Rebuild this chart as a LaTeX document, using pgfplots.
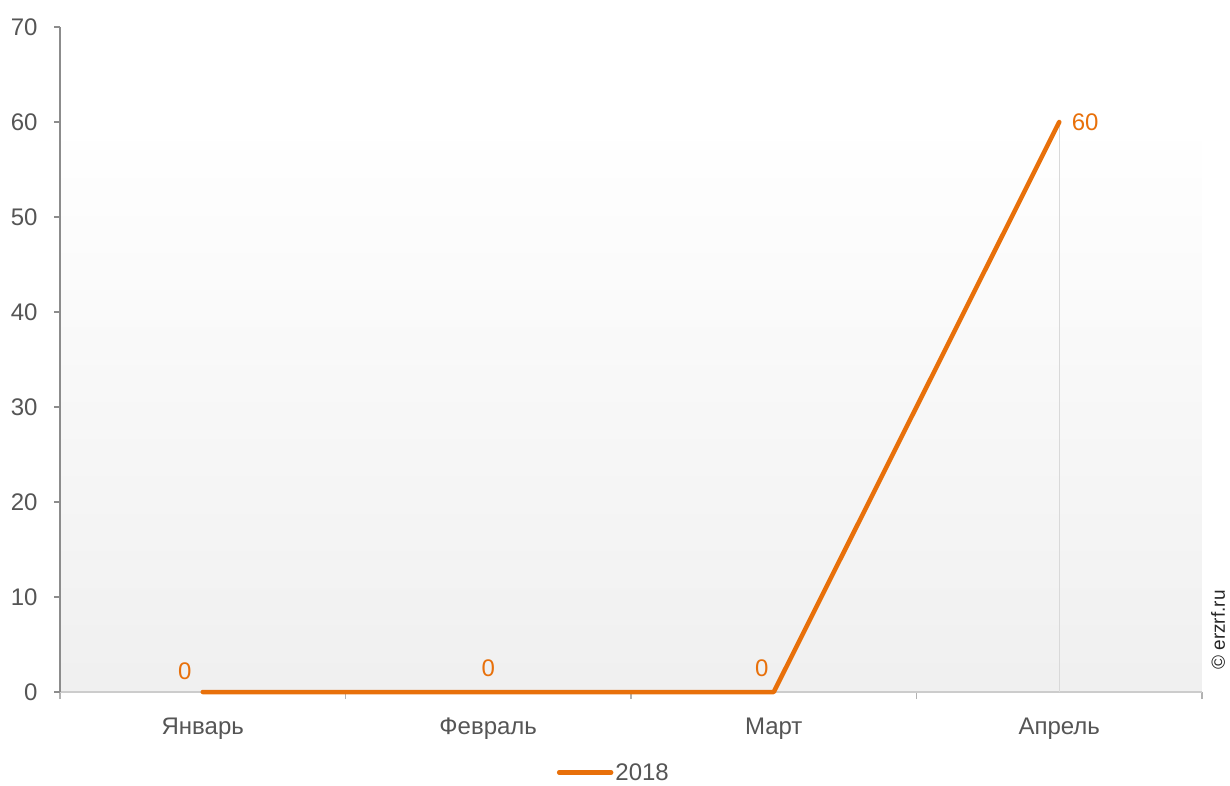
\documentclass[border=0pt]{standalone}
\usepackage{fontspec}
\setmainfont{Liberation Sans}
\usepackage{pgfplots}
\pgfplotsset{compat=1.18}
\definecolor{lineor}{HTML}{E8700A}
\definecolor{txt}{HTML}{555555}
\newcommand{\fs}{\fontsize{24}{28}\selectfont}
\begin{document}
\begin{tikzpicture}
\begin{axis}[
  set layers,
  at={(60pt,93pt)}, anchor=south west, scale only axis,
  width=1142pt, height=665pt,
  xmin=-0.5, xmax=3.5, ymin=0, ymax=70,
  clip=false,
  axis x line*=bottom, axis y line*=left,
  x axis line style={draw=black!20, line width=1.2pt, -},
  y axis line style={draw=black!45, line width=1.2pt, -},
  ytick={0,10,...,70},
  xtick={0,1,2,3},
  xticklabels={Январь,Февраль,Март,Апрель},
  minor xtick={-0.5,0.5,1.5,2.5,3.5},
  tick align=outside,
  major tick length=6pt, minor tick length=7pt,
  major x tick style={draw=none},
  minor x tick style={draw=black!30, line width=1.2pt},
  y tick style={draw=black!45, line width=1.2pt},
  /pgf/number format/assume math mode=true,
  ticklabel style={font=\fs, text=txt},
  xticklabel style={anchor=base, yshift=-36pt},
  yticklabel style={xshift=-13pt},
  legend style={at={(0.485,-0.121)}, anchor=center, draw=none, fill=none,
    font=\fs, text=txt, inner sep=0pt},
  legend image code/.code={\draw[#1] (0pt,0pt) -- (52pt,0pt);},
]
\addplot[draw=none, top color=white, bottom color=black!6, forget plot, on layer=axis background] coordinates {(-0.5,0) (3.5,0) (3.5,60) (-0.5,60)} -- cycle;
\addplot[black!15, line width=1.2pt, forget plot] coordinates {(3,0) (3,60)};
\addplot[lineor, line width=4.5pt, line cap=round, line join=round] coordinates {(0,0) (1,0) (2,0) (3,60)};
\addlegendentry{2018}
\node[text=lineor, font=\fs] at (axis cs:0,0) [xshift=-18pt, yshift=21pt] {0};
\node[text=lineor, font=\fs] at (axis cs:1,0) [yshift=24pt] {0};
\node[text=lineor, font=\fs] at (axis cs:2,0) [xshift=-12pt, yshift=24pt] {0};
\node[text=lineor, font=\fs] at (axis cs:3,60) [xshift=26pt] {60};
\end{axis}
\node[rotate=90, text=black!85, font=\fontsize{19}{23}\selectfont] at (1218pt,155pt) {© erzrf.ru};
\pgfresetboundingbox
\path[use as bounding box] (0pt,0pt) rectangle (1230pt,785pt);
\end{tikzpicture}
\end{document}
